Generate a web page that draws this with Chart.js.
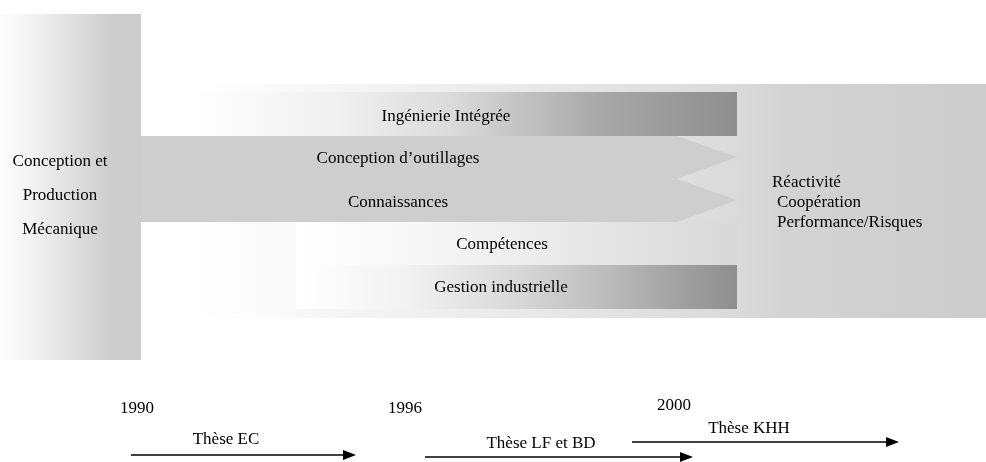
<!DOCTYPE html>
<html><head><meta charset="utf-8">
<style>html,body{margin:0;padding:0;background:#fff;overflow:hidden;}</style>
<script src="https://cdn.jsdelivr.net/npm/chart.js@4.4.0/dist/chart.umd.min.js"></script>
</head><body>
<canvas id="c" width="986" height="462"></canvas>
<script>
// ---- Diagram data (diagram units) ----
const fondX = [193, 986, 986, 193];
const fondY = [84, 84, 318, 318];
const baseX = [0, 141, 141, 0];
const baseY = [14, 14, 360, 360];
const axeX = [141, 677, 737, 677, 737, 677, 141];
const axeY = [136, 136, 157, 179, 200, 222, 222];
const ingX = [190, 737, 737, 190];
const ingY = [92, 92, 136, 136];
const compX = [296, 737, 737, 296];
const compY = [222, 222, 265, 265];
const gestX = [296, 737, 737, 296];
const gestY = [265, 265, 309, 309];

const labelTexts = ['Conception et', 'Production', 'Mécanique',
  'Ingénierie Intégrée', 'Conception d’outillages', 'Connaissances', 'Compétences', 'Gestion industrielle',
  'Réactivité', 'Coopération', 'Performance/Risques'];
const labelX = [60, 60, 60, 446, 398, 398, 502, 501, 772, 777, 777];
const labelY = [166, 200, 234, 121, 163, 207, 249, 292, 187, 207, 227];
const labelAlign = ['center', 'center', 'center', 'center', 'center', 'center', 'center', 'center', 'left', 'left', 'left'];

const years = ['1990', '1996', '2000'];
const yearX = [137, 405, 674];
const yearY = [413, 413, 410];

const theses = ['Thèse EC', 'Thèse LF et BD', 'Thèse KHH'];
const thesisStart = [131, 425, 632];
const thesisEnd = [356, 693, 899];
const thesisArrowY = [455, 457, 442];
const thesisLabelX = [226, 541, 749];
const thesisLabelY = [444, 448, 433];

// ---- helpers ----
function pts(xs, ys) {
  const p = xs.map((x, i) => ({x: x, y: ys[i]}));
  p.push({x: xs[0], y: ys[0]});
  return p;
}
function grad(x0, x1, stops) {
  return function (context) {
    const chart = context.chart;
    if (!chart.chartArea || !chart.scales.x) return stops[stops.length - 1][1];
    const sx = chart.scales.x;
    const g = chart.ctx.createLinearGradient(sx.getPixelForValue(x0), 0, sx.getPixelForValue(x1), 0);
    stops.forEach(s => g.addColorStop(s[0], s[1]));
    return g;
  };
}
function shape(label, xs, ys, bg, order) {
  return {label: label, data: pts(xs, ys), showLine: true, fill: 'shape',
    backgroundColor: bg, borderColor: 'rgba(0,0,0,0)', borderWidth: 0,
    pointRadius: 0, tension: 0, order: order};
}

const datasets = [
  shape('fond', fondX, fondY, grad(193, 986, [[0, '#ffffff'], [0.19, '#f5f5f5'], [0.686, '#dadada'], [0.75, '#d3d3d3'], [1, '#cccccc']]), 20),
  shape('base', baseX, baseY, grad(0, 141, [[0, '#fdfdfd'], [0.2, '#f4f4f4'], [0.8, '#cccccc'], [1, '#cccccc']]), 19),
  shape('axe', axeX, axeY, '#cecece', 18),
  shape('ing', ingX, ingY, grad(190, 737, [[0, '#ffffff'], [0.27, '#f0f0f0'], [0.47, '#dcdcdc'], [0.62, '#c0c0c0'], [0.75, '#a8a8a8'], [1, '#8e8e8e']]), 17),
  shape('comp', compX, compY, grad(296, 737, [[0, '#ffffff'], [0.3, '#f6f6f6'], [1, '#d8d8d8']]), 16),
  shape('gest', gestX, gestY, grad(296, 737, [[0, '#ffffff'], [0.25, '#f2f2f2'], [0.5, '#d8d8d8'], [0.7, '#bcbcbc'], [0.85, '#a4a4a4'], [1, '#8e8e8e']]), 15)
];
theses.forEach((t, i) => {
  const headLen = 13, headHalf = 5;
  datasets.push({label: t, data: [{x: thesisStart[i], y: thesisArrowY[i]}, {x: thesisEnd[i] - headLen + 1, y: thesisArrowY[i]}],
    showLine: true, borderColor: '#000', borderWidth: 1.7, pointRadius: 0, fill: false, order: 2});
  datasets.push(shape(t + ' tête',
    [thesisEnd[i], thesisEnd[i] - headLen, thesisEnd[i] - headLen],
    [thesisArrowY[i], thesisArrowY[i] - headHalf, thesisArrowY[i] + headHalf], '#000', 1));
});

const textPlugin = {
  id: 'texts',
  afterDatasetsDraw(chart) {
    const {ctx} = chart; const sx = chart.scales.x, sy = chart.scales.y;
    ctx.save();
    ctx.fillStyle = '#000';
    ctx.font = '17px "Liberation Serif", "Times New Roman", serif';
    ctx.textBaseline = 'alphabetic';
    labelTexts.forEach((t, i) => {
      ctx.textAlign = labelAlign[i];
      ctx.fillText(t, sx.getPixelForValue(labelX[i]), sy.getPixelForValue(labelY[i]));
    });
    ctx.textAlign = 'center';
    years.forEach((t, i) => ctx.fillText(t, sx.getPixelForValue(yearX[i]), sy.getPixelForValue(yearY[i])));
    theses.forEach((t, i) => ctx.fillText(t, sx.getPixelForValue(thesisLabelX[i]), sy.getPixelForValue(thesisLabelY[i])));
    ctx.restore();
  }
};

new Chart(document.getElementById('c'), {
  type: 'scatter',
  data: {datasets: datasets},
  options: {
    responsive: false, animation: false, devicePixelRatio: 1,
    layout: {padding: 0},
    plugins: {legend: {display: false}, tooltip: {enabled: false}},
    events: [],
    scales: {
      x: {type: 'linear', min: 0, max: 986, display: false},
      y: {type: 'linear', min: 0, max: 462, reverse: true, display: false}
    }
  },
  plugins: [textPlugin]
});
</script>
</body></html>
